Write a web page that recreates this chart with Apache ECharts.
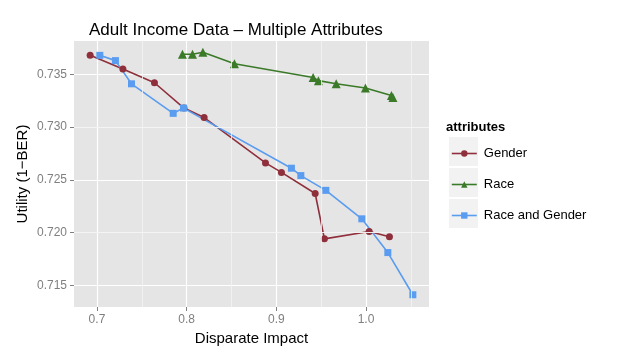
<!DOCTYPE html>
<html lang="en">
<head>
    <meta charset="UTF-8">
    <title>Adult Income Data</title>
    <script src="https://cdn.jsdelivr.net/npm/echarts@6/dist/echarts.min.js"></script>
    <style>
        body { margin: 0; background: #fff; }
        #chartmain { width: 623px; height: 357px; }
    </style>
</head>
<body>
<div id="chartmain"></div>
<script type="text/javascript">
    // values: [disparate impact, utility]
    var gender = [
        [0.6924, 0.7368], [0.7289, 0.7355], [0.7641, 0.7342], [0.7970, 0.7318],
        [0.8195, 0.7309], [0.8879, 0.7266], [0.9057, 0.7257], [0.9433, 0.7237],
        [0.9536, 0.7194], [1.0035, 0.7201], [1.0261, 0.7196]
    ];
    var race = [
        [0.7953, 0.7369], [0.8065, 0.7369], [0.8181, 0.7371], [0.8533, 0.7360],
        [0.9410, 0.7347], [0.9469, 0.7344], [0.9667, 0.7341], [0.9993, 0.7337],
        [1.0283, 0.7330], [1.0300, 0.7328]
    ];
    var raceGender = [
        [0.7032, 0.7368], [0.7206, 0.7363], [0.7385, 0.7341], [0.7850, 0.7313],
        [0.7965, 0.7318], [0.9168, 0.7261], [0.9273, 0.7254], [0.9552, 0.7240],
        [0.9953, 0.7213], [1.0243, 0.7181], [1.0522, 0.7141]
    ];

    var xTicks = [0.7, 0.8, 0.9, 1.0];
    var yTicks = [0.715, 0.720, 0.725, 0.730, 0.735];
    var xMinor = [0.75, 0.85, 0.95, 1.05];
    var yMinor = [0.7175, 0.7225, 0.7275, 0.7325, 0.7375];

    var seriesNames = ['Gender', 'Race', 'Race and Gender'];
    var colors = ['#8f2f3b', '#3b7a28', '#5a9cf0'];

    function gridLines(xs, ys, color, width) {
        var out = [];
        xs.forEach(function (v) { out.push({ xAxis: v, lineStyle: { color: color, width: width, type: 'solid', opacity: 1 } }); });
        ys.forEach(function (v) { out.push({ yAxis: v, lineStyle: { color: color, width: width, type: 'solid', opacity: 1 } }); });
        return out;
    }

    var font = '"Liberation Sans", Arial, sans-serif';
    var myChart = echarts.init(document.getElementById('chartmain'));
    myChart.setOption({
        animation: false,
        textStyle: { fontFamily: font },
        title: [{
            text: 'Adult Income Data \u2013 Multiple Attributes',
            left: 84, top: 17,
            textStyle: { fontSize: 17, fontWeight: 'normal', color: '#000', fontFamily: font }
        }, {
            text: 'attributes',
            left: 441, top: 116,
            textStyle: { fontSize: 13, fontWeight: 'bold', color: '#000', fontFamily: font }
        }],
        graphic: [
            { type: 'rect', shape: { x: 449, y: 137, width: 29, height: 29 }, style: { fill: '#f2f2f2' }, z: -1 },
            { type: 'rect', shape: { x: 449, y: 168, width: 29, height: 29 }, style: { fill: '#f2f2f2' }, z: -1 },
            { type: 'rect', shape: { x: 449, y: 199, width: 29, height: 29 }, style: { fill: '#f2f2f2' }, z: -1 }
        ],
        legend: {
            data: seriesNames,
            orient: 'vertical',
            left: 451, top: 147, padding: 0,
            itemWidth: 25, itemHeight: 8, itemGap: 18,
            lineStyle: { width: 1.6 },
            textStyle: { fontSize: 13, color: '#000', fontFamily: font, padding: [0, 0, 0, 2] }
        },
        grid: {
            left: 74, right: 194, top: 41, bottom: 50,
            show: true, backgroundColor: '#e5e5e5', borderWidth: 0,
            containLabel: false
        },
        xAxis: {
            type: 'value',
            min: 0.6744, max: 1.0702,
            name: 'Disparate Impact',
            nameLocation: 'middle', nameGap: 22,
            nameTextStyle: { fontSize: 15, color: '#000', fontFamily: font },
            axisLine: { show: false },
            axisTick: { show: true, length: 4, customValues: xTicks, lineStyle: { color: '#7f7f7f' } },
            axisLabel: {
                customValues: xTicks, color: '#7f7f7f', fontSize: 12, margin: 7,
                formatter: function (v) { return v.toFixed(1); }
            },
            splitLine: { show: true, lineStyle: { color: '#ffffff', width: 1.2 } }
        },
        yAxis: {
            type: 'value',
            min: 0.71294, max: 0.73816,
            name: 'Utility (1\u2212BER)',
            nameLocation: 'middle', nameGap: 44, nameRotate: 90,
            nameMoveOverlap: false,
            nameTextStyle: { fontSize: 15, color: '#000', fontFamily: font },
            axisLine: { show: false },
            axisTick: { show: true, length: 4, customValues: yTicks, lineStyle: { color: '#7f7f7f' } },
            axisLabel: {
                customValues: yTicks, color: '#7f7f7f', fontSize: 12, margin: 7,
                formatter: function (v) { return v.toFixed(3); }
            },
            splitLine: { show: true, lineStyle: { color: '#ffffff', width: 1.2 } }
        },
        series: [{
            type: 'line', name: '_grid', data: [], z: 1, silent: true,
            markLine: {
                silent: true, symbol: 'none', label: { show: false }, animation: false,
                emphasis: { disabled: true },
                data: gridLines(xMinor, yMinor, '#f4f4f4', 0.8)
            }
        }, {
            name: seriesNames[0], type: 'line', data: gender, z: 3,
            color: colors[0], symbol: 'circle', symbolSize: 7,
            lineStyle: { width: 1.6 }
        }, {
            name: seriesNames[1], type: 'line', data: race, z: 3,
            color: colors[1], symbol: 'triangle', symbolSize: 9,
            lineStyle: { width: 1.6 }
        }, {
            name: seriesNames[2], type: 'line', data: raceGender, z: 3,
            color: colors[2], symbol: 'rect', symbolSize: 7,
            lineStyle: { width: 1.6 }
        }]
    });
</script>
</body>
</html>
